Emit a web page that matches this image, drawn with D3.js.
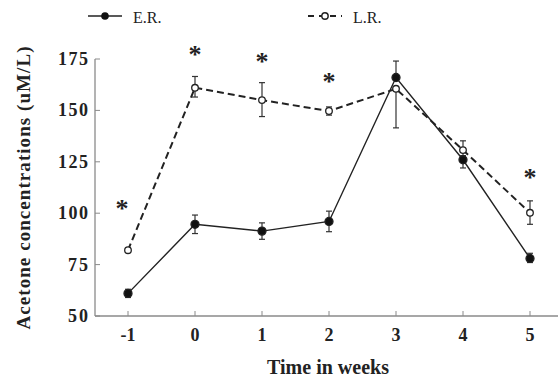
<!DOCTYPE html>
<html>
<head>
<meta charset="utf-8">
<script src="https://cdn.jsdelivr.net/npm/d3@7"></script>
<style>
body { margin: 0; background: #fff; }
text { font-family: "Liberation Serif", "DejaVu Serif", serif; font-weight: bold; fill: #222; }
</style>
</head>
<body>
<script>
// data
var weeks = [-1, 0, 1, 2, 3, 4, 5];
var erValues = [61, 94.6, 91.3, 96, 166, 126, 78];
var erUp = [2, 4.5, 4, 5, 8, 2, 2.5];
var erDown = [2, 4.5, 4, 5, 0, 4, 2];
var lrValues = [82, 161, 155, 149.7, 160.5, 130.7, 100.2];
var lrUp = [1, 5.5, 8.5, 2, 0, 4.5, 5.8];
var lrDown = [1, 4.5, 8, 2, 19, 3, 5.6];
var starWeeks = [-1, 0, 1, 2, 5];
var starValues = [103.5, 178.5, 175, 165.5, 118.5];
var yTicks = [50, 75, 100, 125, 150, 175];

var w = 559, h = 379;
var svg = d3.select("body").append("svg")
    .attr("width", w)
    .attr("height", h);

var x = d3.scaleLinear().domain([-1, 5]).range([128, 530]);
var y = d3.scaleLinear().domain([50, 175]).range([316, 59]);

var axisColor = "#8a8a8a";

// x axis line runs to the right edge
svg.append("line")
    .attr("x1", 95).attr("x2", 558)
    .attr("y1", y(50)).attr("y2", y(50))
    .attr("stroke", axisColor).attr("stroke-width", 1.3);
svg.append("line")
    .attr("x1", 95).attr("x2", 95)
    .attr("y1", y(50)).attr("y2", y(175))
    .attr("stroke", axisColor).attr("stroke-width", 1.3);

// ticks (inward)
svg.selectAll(".xt").data(weeks).enter().append("line")
    .attr("x1", function(d){ return x(d); })
    .attr("x2", function(d){ return x(d); })
    .attr("y1", y(50)).attr("y2", y(50) - 5)
    .attr("stroke", axisColor);
svg.selectAll(".yt").data(yTicks).enter().append("line")
    .attr("x1", 95).attr("x2", 100)
    .attr("y1", function(d){ return y(d); })
    .attr("y2", function(d){ return y(d); })
    .attr("stroke", axisColor);

svg.selectAll(".xl").data(weeks).enter().append("text")
    .attr("x", function(d){ return x(d); })
    .attr("y", 341)
    .attr("text-anchor", "middle")
    .attr("font-size", 18)
    .text(function(d){ return d; });
svg.selectAll(".yl").data(yTicks).enter().append("text")
    .attr("x", 88)
    .attr("y", function(d){ return y(d) + 6; })
    .attr("text-anchor", "end")
    .attr("font-size", 18)
    .attr("textLength", function(d){ return String(d).length * 10; })
    .text(function(d){ return d; });

svg.append("text")
    .attr("x", 328).attr("y", 374)
    .attr("text-anchor", "middle")
    .attr("font-size", 20)
    .text("Time in weeks");
svg.append("text")
    .attr("transform", "translate(30,188) rotate(-90)")
    .attr("text-anchor", "middle")
    .attr("font-size", 19)
    .attr("textLength", 283)
    .text("Acetone concentrations (uM/L)");

function drawSeries(vals, up, down, dashed, filled) {
    var pts = weeks.map(function(d, i){ return [x(d), y(vals[i])]; });
    svg.append("path")
        .attr("d", d3.line()(pts))
        .attr("fill", "none")
        .attr("stroke", "#222")
        .attr("stroke-width", dashed ? 2 : 1.4)
        .attr("stroke-dasharray", dashed ? "7,4" : null);
    var g = svg.append("g").selectAll("g").data(weeks).enter().append("g");
    g.append("line")
        .attr("x1", function(d){ return x(d); })
        .attr("x2", function(d){ return x(d); })
        .attr("y1", function(d, i){ return y(vals[i] + up[i]); })
        .attr("y2", function(d, i){ return y(vals[i] - down[i]); })
        .attr("stroke", "#333").attr("stroke-width", 1.2);
    g.filter(function(d, i){ return up[i] > 0; }).append("line")
        .attr("x1", function(d){ return x(d) - 3; })
        .attr("x2", function(d){ return x(d) + 3; })
        .attr("y1", function(d){ var i = weeks.indexOf(d); return y(vals[i] + up[i]); })
        .attr("y2", function(d){ var i = weeks.indexOf(d); return y(vals[i] + up[i]); })
        .attr("stroke", "#333").attr("stroke-width", 1.2);
    g.filter(function(d, i){ return down[i] > 0; }).append("line")
        .attr("x1", function(d){ return x(d) - 3; })
        .attr("x2", function(d){ return x(d) + 3; })
        .attr("y1", function(d){ var i = weeks.indexOf(d); return y(vals[i] - down[i]); })
        .attr("y2", function(d){ var i = weeks.indexOf(d); return y(vals[i] - down[i]); })
        .attr("stroke", "#333").attr("stroke-width", 1.2);
    svg.append("g").selectAll("circle").data(weeks).enter().append("circle")
        .attr("cx", function(d){ return x(d); })
        .attr("cy", function(d, i){ return y(vals[i]); })
        .attr("r", filled ? 4 : 3.3)
        .attr("fill", filled ? "#111" : "#fff")
        .attr("stroke", "#222")
        .attr("stroke-width", 1.3);
}

drawSeries(lrValues, lrUp, lrDown, true, false);
drawSeries(erValues, erUp, erDown, false, true);

// significance stars
svg.selectAll(".star").data(starWeeks).enter().append("text")
    .attr("x", function(d){ return d === -1 ? x(d) - 6 : x(d); })
    .attr("y", function(d, i){ return y(starValues[i]) + 11; })
    .attr("text-anchor", "middle")
    .attr("font-size", 26)
    .text("*");

// legend
var leg = svg.append("g");
leg.append("line").attr("x1", 88).attr("x2", 122).attr("y1", 16).attr("y2", 16)
    .attr("stroke", "#222").attr("stroke-width", 1.6);
leg.append("circle").attr("cx", 105).attr("cy", 16).attr("r", 3.8).attr("fill", "#111");
leg.append("text").attr("x", 133).attr("y", 23).attr("font-size", 16)
    .style("font-weight", "normal").text("E.R.");
leg.append("line").attr("x1", 308).attr("x2", 342).attr("y1", 16).attr("y2", 16)
    .attr("stroke", "#222").attr("stroke-width", 1.8).attr("stroke-dasharray", "6,5");
leg.append("circle").attr("cx", 325).attr("cy", 16).attr("r", 3.2)
    .attr("fill", "#fff").attr("stroke", "#222").attr("stroke-width", 1.4);
leg.append("text").attr("x", 353).attr("y", 23).attr("font-size", 16)
    .style("font-weight", "normal").text("L.R.");
</script>
</body>
</html>
